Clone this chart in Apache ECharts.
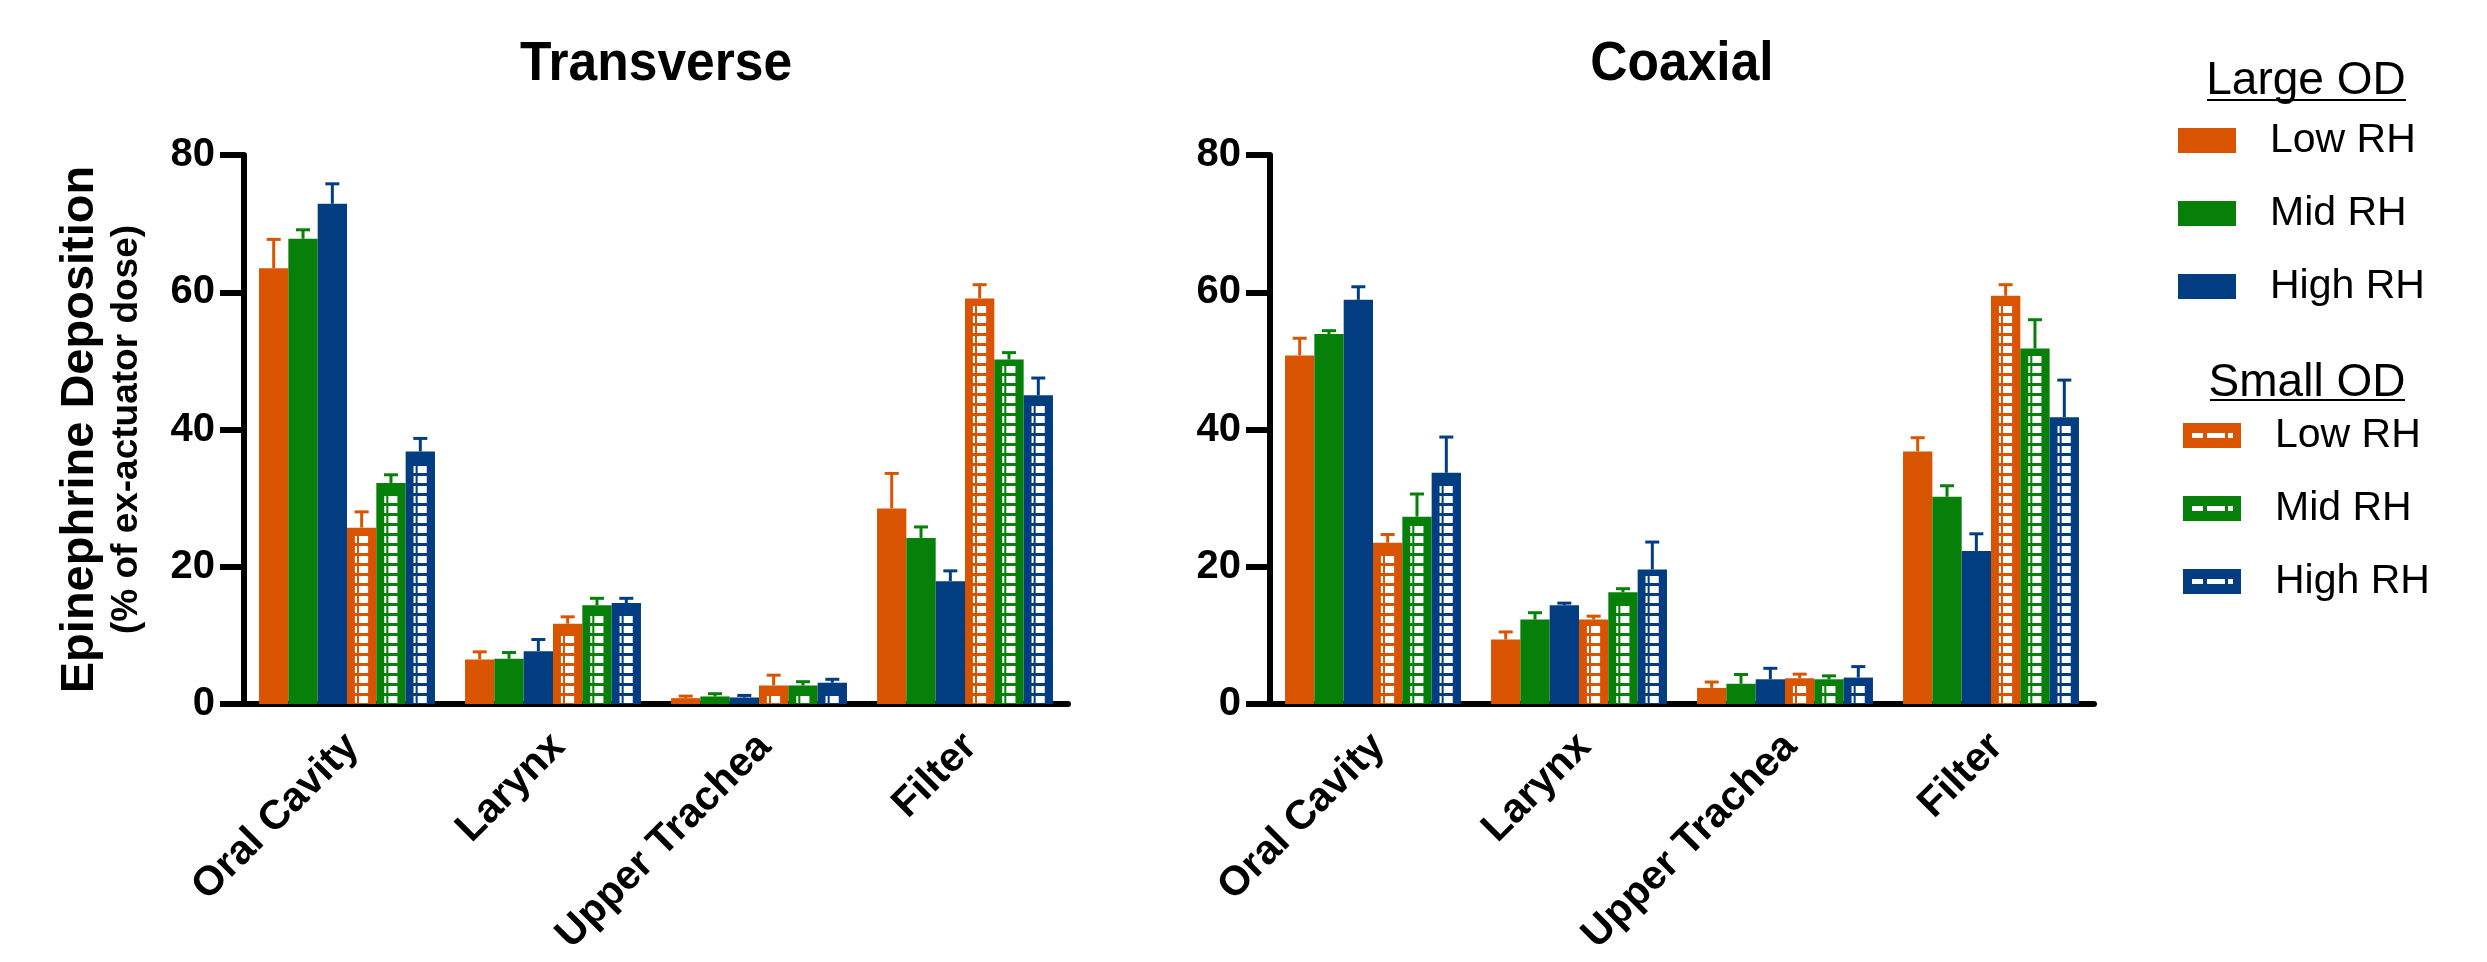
<!DOCTYPE html>
<html><head><meta charset="utf-8">
<script src="https://cdn.jsdelivr.net/npm/echarts@6/dist/echarts.min.js"></script>
<style>html,body{margin:0;padding:0;background:#fff}#c{width:2487px;height:962px}</style>
</head><body><div id="c"></div>
<script>
// ---------- data ----------
const categories = ['Oral Cavity', 'Larynx', 'Upper Trachea', 'Filter'];
const yTickMin = 0, yTickMax = 80, yTickStep = 20;
const panelTitles = ['Transverse', 'Coaxial'];
const rhLabels = ['Low RH', 'Mid RH', 'High RH'];
const groupTitles = ['Large OD', 'Small OD'];
const yTitle = 'Epinephrine Deposition';
const ySubTitle = '(% of ex-actuator dose)';

// Transverse (mean, upper error)
const transLargeLow  = [63.5, 6.5, 0.85, 28.5];
const transLargeLowErr  = [4.2, 1.1, 0.3, 5.1];
const transLargeMid  = [67.8, 6.6, 1.1, 24.2];
const transLargeMidErr  = [1.3, 0.9, 0.4, 1.6];
const transLargeHigh = [72.9, 7.7, 0.95, 17.9];
const transLargeHighErr = [2.9, 1.7, 0.3, 1.5];
const transSmallLow  = [25.7, 11.7, 2.7, 59.1];
const transSmallLowErr  = [2.3, 1.0, 1.5, 2.0];
const transSmallMid  = [32.2, 14.4, 2.7, 50.2];
const transSmallMidErr  = [1.2, 1.0, 0.55, 1.0];
const transSmallHigh = [36.8, 14.7, 3.1, 45.0];
const transSmallHighErr = [1.9, 0.7, 0.5, 2.5];

// Coaxial (mean, upper error)
const coaxLargeLow  = [50.8, 9.4, 2.35, 36.8];
const coaxLargeLowErr  = [2.5, 1.1, 0.85, 2.0];
const coaxLargeMid  = [53.9, 12.3, 2.95, 30.2];
const coaxLargeMidErr  = [0.5, 1.0, 1.35, 1.6];
const coaxLargeHigh = [58.9, 14.4, 3.6, 22.3];
const coaxLargeHighErr = [1.9, 0.3, 1.6, 2.5];
const coaxSmallLow  = [23.5, 12.3, 3.75, 59.5];
const coaxSmallLowErr  = [1.2, 0.5, 0.6, 1.6];
const coaxSmallMid  = [27.3, 16.3, 3.6, 51.8];
const coaxSmallMidErr  = [3.3, 0.5, 0.5, 4.2];
const coaxSmallHigh = [33.7, 19.6, 3.85, 41.8];
const coaxSmallHighErr = [5.2, 4.0, 1.6, 5.4];

// ---------- styles ----------
const COLORS = ['#D95400', '#07800A', '#023D82'];
const FONT = '"Liberation Sans", Arial, Helvetica, sans-serif';
const CAT_GAP = 0.146;

const panels = [
  [[transLargeLow, transLargeLowErr], [transLargeMid, transLargeMidErr], [transLargeHigh, transLargeHighErr],
   [transSmallLow, transSmallLowErr], [transSmallMid, transSmallMidErr], [transSmallHigh, transSmallHighErr]],
  [[coaxLargeLow, coaxLargeLowErr], [coaxLargeMid, coaxLargeMidErr], [coaxLargeHigh, coaxLargeHighErr],
   [coaxSmallLow, coaxSmallLowErr], [coaxSmallMid, coaxSmallMidErr], [coaxSmallHigh, coaxSmallHighErr]]
];

function makeRender(j, hatched, color) {
  return function (params, api) {
    const cat = api.value(0), v = api.value(1), e = api.value(2);
    const base = api.coord([cat, 0]);
    const top = api.coord([cat, v]);
    const tip = api.coord([cat, v + e]);
    const band = api.size([1, 0])[0];
    const groupW = band * (1 - CAT_GAP);
    const bw = groupW / 6;
    const x = base[0] - groupW / 2 + j * bw;
    const h = base[1] - top[1];
    const cx = x + bw / 2;
    const children = [];
    children.push({ type: 'line', shape: { x1: cx, y1: top[1], x2: cx, y2: tip[1] }, style: { stroke: color, lineWidth: 3 } });
    children.push({ type: 'line', shape: { x1: cx - 7, y1: tip[1], x2: cx + 7, y2: tip[1] }, style: { stroke: color, lineWidth: 3 } });
    children.push({ type: 'rect', shape: { x: x, y: top[1], width: bw, height: h }, style: { fill: color } });
    if (hatched) {
      const P = 10, WH = 7;
      for (let yb = base[1] - 1; yb - WH >= top[1] + 6; yb -= P) {
        children.push({ type: 'rect', shape: { x: x + bw * 0.41, y: yb - WH, width: bw * 0.31, height: WH }, style: { fill: '#fff' } });
        children.push({ type: 'rect', shape: { x: x + bw * 0.27, y: yb - WH, width: bw * 0.07, height: WH }, style: { fill: '#fff' } });
      }
    }
    return { type: 'group', children };
  };
}

function hatchIcon(color) {
  const c = document.createElement('canvas');
  c.width = 58; c.height = 25;
  const g = c.getContext('2d');
  g.fillStyle = color; g.fillRect(0, 0, 58, 25);
  g.fillStyle = '#fff';
  g.fillRect(9, 10, 11, 5); g.fillRect(24, 10, 18, 5); g.fillRect(45, 10, 5, 5);
  return 'image://' + c.toDataURL();
}

const seriesName = (j) => rhLabels[j % 3] + '|' + (j < 3 ? 'L' : 'S');

const grids = [
  { left: 244, top: 155, width: 824, height: 549 },
  { left: 1270, top: 155, width: 824, height: 549 }
];

const xAxes = grids.map((g, i) => ({
  type: 'category', gridIndex: i, data: categories,
  axisLine: { lineStyle: { color: '#000', width: 6 } },
  axisTick: { alignWithLabel: true, length: 24, lineStyle: { color: '#000', width: 6 } },
  axisLabel: { interval: 0, rotate: 45, margin: 42, fontSize: 41, fontWeight: 'bold', color: '#000', fontFamily: FONT, padding: [0, -8, 0, 0] }
}));

const yAxes = grids.map((g, i) => ({
  type: 'value', gridIndex: i, min: yTickMin, max: yTickMax, interval: yTickStep,
  splitLine: { show: false },
  axisLine: { show: true, lineStyle: { color: '#000', width: 6 } },
  axisTick: { show: true, length: 24, lineStyle: { color: '#000', width: 6 } },
  axisLabel: { margin: 29, fontSize: 40, fontWeight: 'bold', color: '#000', fontFamily: FONT },
  name: i === 0 ? '{a|' + yTitle + '}\n{b|' + ySubTitle + '}' : '',
  nameLocation: 'middle', nameRotate: 90, nameGap: 96,
  nameTextStyle: {
    color: '#000', fontFamily: FONT, align: 'center',
    rich: {
      a: { fontSize: 47, fontWeight: 'bold', lineHeight: 52, color: '#000', fontFamily: FONT, align: 'center' },
      b: { fontSize: 37, fontWeight: 'bold', lineHeight: 42, color: '#000', fontFamily: FONT, align: 'center' }
    }
  }
}));

const series = [];
panels.forEach((panel, p) => {
  panel.forEach(([vals, errs], j) => {
    series.push({
      type: 'custom', name: seriesName(j), xAxisIndex: p, yAxisIndex: p,
      itemStyle: { color: COLORS[j % 3] },
      renderItem: makeRender(j, j >= 3, COLORS[j % 3]),
      encode: { x: 0, y: 1 },
      data: vals.map((v, k) => [k, v, errs[k]])
    });
  });
});

const legendText = { fontSize: 41, lineHeight: 41, color: '#000', fontFamily: FONT, padding: [0, 0, 0, 29] };
const legends = [
  {
    orient: 'vertical', left: 2178, top: 120, padding: 0, itemWidth: 58, itemHeight: 25, itemGap: 32,
    selectedMode: false, textStyle: legendText, formatter: (n) => n.split('|')[0],
    data: [0, 1, 2].map(j => ({ name: seriesName(j), icon: 'rect', itemStyle: { color: COLORS[j] } }))
  },
  {
    orient: 'vertical', left: 2183, top: 415, padding: 0, itemWidth: 58, itemHeight: 25, itemGap: 32,
    selectedMode: false, textStyle: legendText, formatter: (n) => n.split('|')[0],
    data: [3, 4, 5].map(j => ({ name: seriesName(j), icon: hatchIcon(COLORS[j - 3]), itemStyle: { color: COLORS[j - 3] } }))
  }
];

const titles = [
  { text: groupTitles[0], left: 2306, top: 58, textAlign: 'center', padding: 0, textStyle: { fontSize: 46, fontWeight: 'normal', color: '#000', fontFamily: FONT } },
  { text: groupTitles[1], left: 2307, top: 360, textAlign: 'center', padding: 0, textStyle: { fontSize: 46, fontWeight: 'normal', color: '#000', fontFamily: FONT } }
];

const panelTitleGraphics = panelTitles.map((t, i) => ({
  type: 'text', x: i === 0 ? 656 : 1682, y: 65, scaleX: 0.92,
  style: { text: t, fill: '#000', font: 'bold 56px ' + FONT, textAlign: 'center', textVerticalAlign: 'middle', verticalAlign: 'middle' }
}));

const chart = echarts.init(document.getElementById('c'), null, { renderer: 'canvas' });
chart.setOption({
  animation: false,
  backgroundColor: '#fff',
  title: titles,
  legend: legends,
  grid: grids,
  xAxis: xAxes,
  yAxis: yAxes,
  series: series,
  graphic: panelTitleGraphics.concat([
    { type: 'line', shape: { x1: 2207, y1: 100, x2: 2406, y2: 100 }, style: { stroke: '#000', lineWidth: 2 } },
    { type: 'line', shape: { x1: 2210, y1: 400, x2: 2405, y2: 400 }, style: { stroke: '#000', lineWidth: 2 } }
  ])
});
</script>
</body></html>
